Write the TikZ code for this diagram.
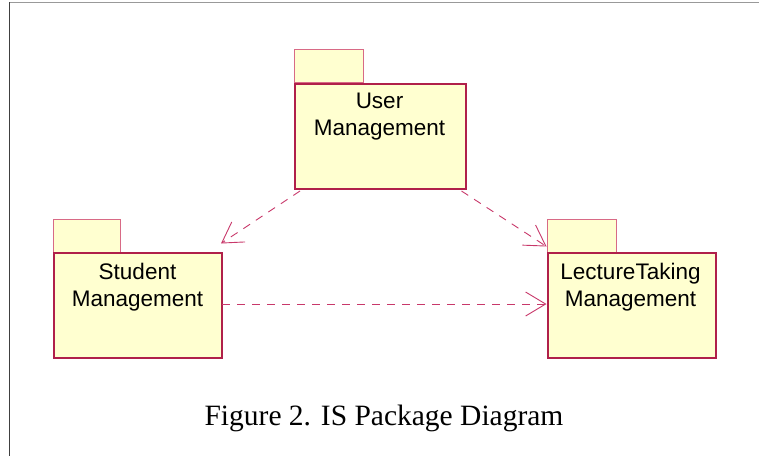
\documentclass[tikz,border=0pt]{standalone}
\usepackage{fontspec}
\setmainfont{Liberation Serif}
\newfontfamily\arialfont{Liberation Sans}
\usetikzlibrary{arrows.meta}
\definecolor{pkgfill}{HTML}{FFFFD0}
\definecolor{pkgline}{HTML}{B0204A}
\definecolor{tabline}{HTML}{D86A86}
\definecolor{depline}{HTML}{C8386A}
\tikzset{
  pkgbody/.style={draw=pkgline,fill=pkgfill,line width=2pt},
  pkgtab/.style={draw=tabline,fill=pkgfill,line width=1pt},
  pkglabel/.style={font=\arialfont\fontsize{22.5}{27}\selectfont,align=center,anchor=base,inner sep=0pt},
  dep/.style={draw=depline,line width=0.9pt,dash pattern=on 8pt off 7pt,
    -{Straight Barb[length=20pt,width=24pt,line width=0.9pt]}},
}
\begin{document}
\begin{tikzpicture}[x=1pt,y=-1pt]
\useasboundingbox (0,0) rectangle (759,456);
% frame
\draw[draw=gray!80,line width=1.5pt] (9,2.5) -- (759,2.5);
\draw[draw=black!75,line width=1.5pt] (9.5,2) -- (9.5,456);
% User Management
\draw[pkgtab] (294,49) rectangle (363,82.5);
\node[pkgbody,minimum width=171pt,minimum height=105.5pt,inner sep=0pt,anchor=north west] (user) at (294,82.5) {};
\node[pkglabel] (userlbl) at (379.5,135) {User\\Management};
% Student Management
\draw[pkgtab] (53,219.5) rectangle (120,252);
\node[pkgbody,minimum width=168pt,minimum height=105pt,inner sep=0pt,anchor=north west] (student) at (53,252) {};
\node[pkglabel] (studlbl) at (137.5,306.5) {Student\\Management};
% LectureTaking Management
\draw[pkgtab] (547,219.5) rectangle (616,252);
\node[pkgbody,minimum width=168pt,minimum height=105pt,inner sep=0pt,anchor=north west] (lecture) at (547,252) {};
\node[pkglabel] (lectlbl) at (630.5,306.5) {LectureTaking\\Management};
% dependencies
\coordinate (u1) at (300,191);
\coordinate (s1) at (221,243.5);
\coordinate (u2) at (461.5,191);
\coordinate (l1) at (546.5,246.5);
\coordinate (s2) at (222,304);
\coordinate (l2) at (546.5,304);
\draw[dep] (u1) -- (s1);
\draw[dep] (u2) -- (l1);
\draw[dep] (s2) -- (l2);
% caption
\node[font=\fontsize{29.5}{34}\selectfont,anchor=base,inner sep=0pt] (caption) at (384,425.7) {Figure 2. IS Package Diagram};
\end{tikzpicture}
\end{document}
